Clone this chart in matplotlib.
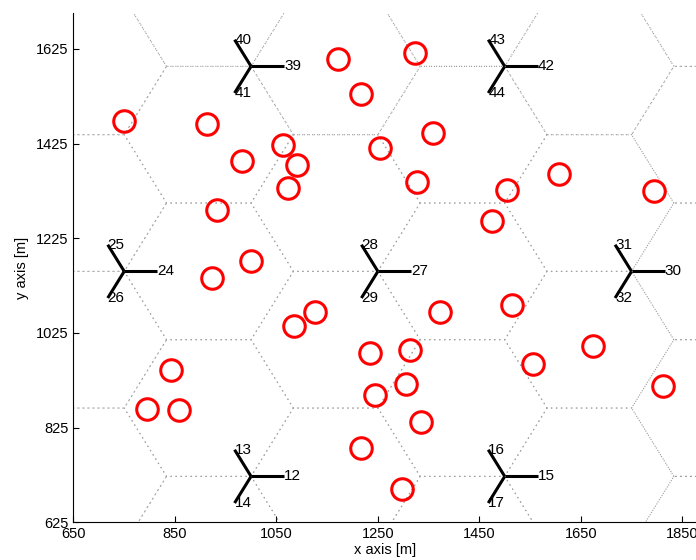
import numpy as np
import matplotlib
matplotlib.use('Agg')
import matplotlib.pyplot as plt

plt.rcParams['font.family'] = ['Liberation Sans', 'DejaVu Sans']

# estacoes base (sitios) com rotulo dos setores
site_x = [1000, 1500, 750, 1250, 1750, 1000, 1500]
site_y = [722, 722, 1155, 1155, 1155, 1588, 1588]
site_first = [12, 15, 24, 27, 30, 39, 42]

# sitios vizinhos fora da area, so para a grade hexagonal
extra_x = [500, 2000, 250, 2250, 500, 2000]
extra_y = [722, 722, 1155, 1155, 1588, 1588]

# usuarios (posicoes)
user_x = [750, 913, 1171, 1323, 1217, 982, 1063, 1091, 1073, 933, 1000, 923,
          1359, 1254, 1327, 1505, 1607, 1794, 1475, 1126, 1085, 842, 795, 858,
          1372, 1514, 1234, 1313, 1305, 1244, 1335, 1217, 1298, 1556, 1674, 1812]
user_y = [1473, 1467, 1604, 1617, 1530, 1388, 1422, 1380, 1331, 1285, 1177, 1141,
          1448, 1416, 1344, 1327, 1361, 1325, 1262, 1069, 1040, 947, 864, 862,
          1069, 1084, 983, 989, 917, 894, 837, 782, 695, 960, 998, 913]

isd = 500.0
R = isd / 3.0          # lado do hexagono de cada setor
ant_len = 65.0
angs = np.deg2rad([0, 120, 240])

fig = plt.figure(figsize=(6.96, 5.6), dpi=100)
ax = fig.add_axes([0.1056, 0.0673, 0.8944, 0.9089])

# grade hexagonal pontilhada
k = np.deg2rad(np.arange(0, 361, 60))
for sx, sy in zip(site_x + extra_x, site_y + extra_y):
    for a in angs:
        cx = sx + R * np.cos(a)
        cy = sy + R * np.sin(a)
        ax.plot(cx + R * np.cos(k), cy + R * np.sin(k), color='#9a9a9a',
                lw=0.8, linestyle=(0, (1, 3.5)))

# antenas e numeros dos setores
for sx, sy, n0 in zip(site_x, site_y, site_first):
    for i, a in enumerate(angs):
        ex = sx + ant_len * np.cos(a)
        ey = sy + ant_len * np.sin(a)
        ax.plot([sx, ex], [sy, ey], '-', color='k', lw=2.2, solid_capstyle='butt')
        ax.text(ex, ey, str(n0 + i), ha='left', va='center', fontsize=11)

ax.plot(user_x, user_y, 'o', mfc='none', mec='red', ms=15.5, mew=2.2)

ax.set_xlim(650, 1877)
ax.set_ylim(625, 1700)
ax.set_xticks(np.arange(650, 1851, 200))
ax.set_yticks(np.arange(625, 1626, 200))
ax.tick_params(direction='in', length=4, labelsize=10.5)
ax.spines['top'].set_visible(False)
ax.spines['right'].set_visible(False)
ax.set_xlabel('x axis [m]', fontsize=10.5, labelpad=1)
ax.set_ylabel('y axis [m]', fontsize=10.5, labelpad=5)

plt.savefig('out.png', dpi=100)
